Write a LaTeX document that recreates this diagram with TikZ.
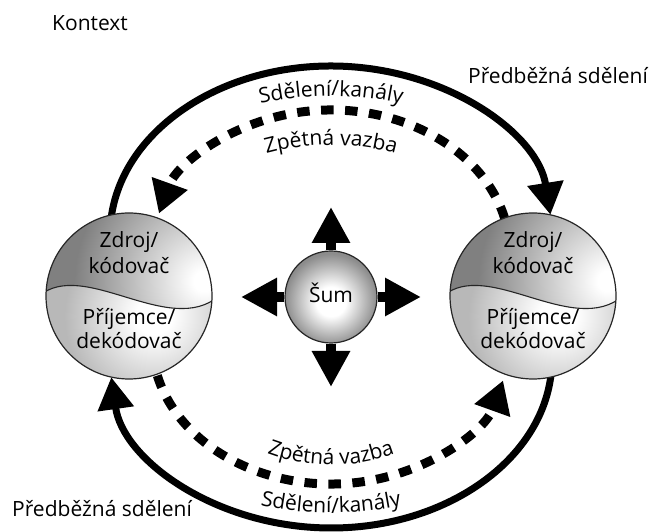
\documentclass[tikz,border=0pt]{standalone}
\usepackage{fontspec}
\setmainfont{Open Sans}
\usetikzlibrary{arrows.meta,decorations.text}
\pgfdeclareradialshading{topshade}{\pgfpoint{0bp}{0bp}}{color(0bp)=(white); color(1bp)=(white); color(12.5bp)=(black!50); color(50bp)=(black!50)}
\pgfdeclareradialshading{botshade}{\pgfpoint{0bp}{0bp}}{color(0bp)=(white); color(2.5bp)=(white); color(12.5bp)=(black!28); color(50bp)=(black!28)}
\pgfdeclareradialshading{sumshade}{\pgfpoint{0bp}{-3bp}}{color(0bp)=(white); color(8bp)=(white); color(25bp)=(black!45); color(50bp)=(black!45)}
\newcommand\lblfont{\fontsize{21}{25}\selectfont}
\newcommand\halfball[1]{%
  \begin{scope}[shift={#1}]
    \begin{scope}
      \clip (0,0) circle (83);
      \shade[shading=topshade] (75,15) circle (260);
      \clip (-90,0) .. controls (-45,38) and (40,-42) .. (90,0) -- (90,-90) -- (-90,-90) -- cycle;
      \shade[shading=botshade] (25,-20) circle (180);
    \end{scope}
    \begin{scope}
      \clip (0,0) circle (83);
      \draw[line width=1.1pt, black!85] (-90,0) .. controls (-45,38) and (40,-42) .. (90,0);
    \end{scope}
  \end{scope}}
\begin{document}
\begin{tikzpicture}[x=1pt,y=1pt,
  lbl/.style={font=\lblfont, inner sep=0pt},
  solidarc/.style={line width=7pt, -{Triangle[length=32pt,width=35pt]}},
  dasharc/.style={line width=9pt, dash pattern=on 12.5pt off 11.5pt, -{Triangle[length=32pt,width=36pt]}},
  noisearrow/.style={line width=10pt, -{Triangle[length=36pt,width=36pt]}},
  rim/.style={circle, draw=black!85, line width=1.2pt, minimum size=166pt, inner sep=0pt},
  arctext/.style={decorate, decoration={text along path, text align=center, text={|\lblfont|#1}}}
]
\useasboundingbox (0,0) rectangle (656,532);

% arcs
\coordinate (ts) at ([shift={(331,297)}]174:221 and 169);
\draw[solidarc] (ts) arc[start angle=174, end angle=6.9, x radius=221, y radius=169];
\coordinate (bs) at ([shift={(331,173)}]-5:221 and 169);
\draw[solidarc] (bs) arc[start angle=-5, end angle=-173.8, x radius=221, y radius=169];
\coordinate (tds) at ([shift={(331,279)}]14:179 and 143);
\draw[dasharc] (tds) arc[start angle=14, end angle=164, x radius=179, y radius=143];
\coordinate (bds) at ([shift={(331,191)}]194:179 and 143);
\draw[dasharc] (bds) arc[start angle=194, end angle=344, x radius=179, y radius=143];

% arc texts
\path[arctext=Sdělení/kanály] ([shift={(331,116)}]110:320) arc[start angle=110, end angle=70, radius=320];
\path[arctext=Zpětná vazba] ([shift={(331,142)}]115:245) arc[start angle=115, end angle=65, radius=245];
\path[arctext=Zpětná vazba] ([shift={(331,247)}]240:180) arc[start angle=240, end angle=300, radius=180];
\path[arctext=Sdělení/kanály] ([shift={(331,349)}]250:330) arc[start angle=250, end angle=290, radius=330];

% spheres
\halfball{(129,236)}
\halfball{(533,236)}
\node[rim] (src1) at (129,236) {};
\node[rim] (src2) at (533,236) {};

\node[lbl, anchor=base] (a1) at (129,284) {Zdroj/};
\node[lbl, anchor=base] (b1) at (129,258) {kódovač};
\node[lbl, anchor=base] (c1) at (129,207) {Příjemce/};
\node[lbl, anchor=base] (d1) at (129,183) {dekódovač};
\node[lbl, anchor=base] (a2) at (533,284) {Zdroj/};
\node[lbl, anchor=base] (b2) at (533,258) {kódovač};
\node[lbl, anchor=base] (c2) at (533,207) {Příjemce/};
\node[lbl, anchor=base] (d2) at (533,183) {dekódovač};

% noise
\node[circle, shading=sumshade, draw=black!85, line width=1.2pt, minimum size=92pt, inner sep=0pt] (sum) at (331,235) {};
\coordinate (nu) at (331,325);
\coordinate (nd) at (331,145);
\coordinate (nl) at (241,235);
\coordinate (nr) at (421,235);
\foreach \t in {nu,nd,nl,nr} \draw[noisearrow] (sum) -- (\t);
\node[lbl, anchor=base] (sumt) at (331,229) {Šum};

% free labels
\node[lbl, anchor=base west] (ctx) at (52,501) {Kontext};
\node[lbl, anchor=base west] (pre1) at (468,448) {Předběžná sdělení};
\node[lbl, anchor=base west] (pre2) at (12,15) {Předběžná sdělení};
\end{tikzpicture}
\end{document}
